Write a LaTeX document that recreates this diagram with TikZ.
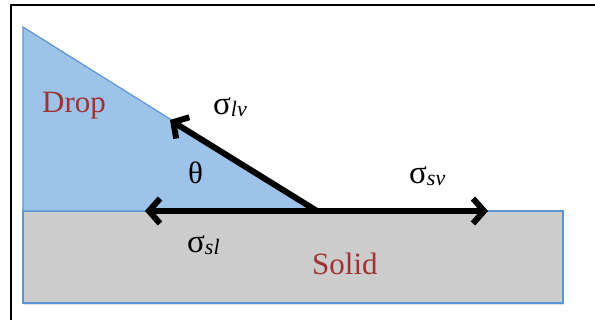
\documentclass[tikz,border=0pt]{standalone}
\usepackage{fontspec}
\setmainfont{Liberation Serif}[ItalicFont={Liberation Serif Italic}]
\usetikzlibrary{arrows.meta,shadows}
\definecolor{dropfill}{RGB}{158,195,233}
\definecolor{edgeblue}{RGB}{91,150,210}
\definecolor{solidgray}{RGB}{204,204,204}
\definecolor{labelred}{RGB}{158,50,50}
\tikzset{
  force/.style={line width=6pt, -{Straight Barb[length=11pt,width=25pt]}},
  region/.style={draw=edgeblue, line width=1.2pt},
  bigtext/.style={inner sep=0pt, anchor=base west, font=\fontsize{31}{31}\selectfont},
  redtext/.style={bigtext, text=labelred},
  frame/.style={line width=2.5pt, black}
}
\newcommand{\sigsub}[1]{{\fontsize{33}{33}\selectfont σ}\raisebox{-2pt}{\fontsize{22}{22}\selectfont\itshape #1}}
\begin{document}
\begin{tikzpicture}[x=1pt,y=-1pt]
\useasboundingbox (0,0) rectangle (595,320);
% frame
\coordinate (ftl) at (11,5);
\coordinate (ftr) at (595,5);
\coordinate (fbl) at (11,320);
\draw[frame] (ftr) -- (ftl) -- (fbl);
% solid
\path[region, fill=solidgray, drop shadow={shadow xshift=1pt, shadow yshift=-2.5pt, opacity=0.25}]
  (23,211) rectangle (563,303);
% drop
\coordinate (apex) at (23,27);
\coordinate (C) at (317,211);
\coordinate (base) at (23,211);
\path[region, fill=dropfill] (apex) -- (C) -- (base) -- cycle;
% forces
\coordinate (lv) at (170,120);
\coordinate (sv) at (488,211);
\coordinate (sl) at (145,211);
\draw[force] (C) -- (lv);
\draw[force] (C) -- (sv);
\draw[force] (C) -- (sl);
% labels
\node[redtext] (droplab) at (42,113) {Drop};
\node[redtext] (solidlab) at (312,275) {Solid};
\node[bigtext] (theta) at (188,184) {θ};
\node[bigtext] (siglv) at (213,115) {\sigsub{lv}};
\node[bigtext] (sigsv) at (409,184) {\sigsub{sv}};
\node[bigtext] (sigsl) at (187,253) {\sigsub{sl}};
\end{tikzpicture}
\end{document}
